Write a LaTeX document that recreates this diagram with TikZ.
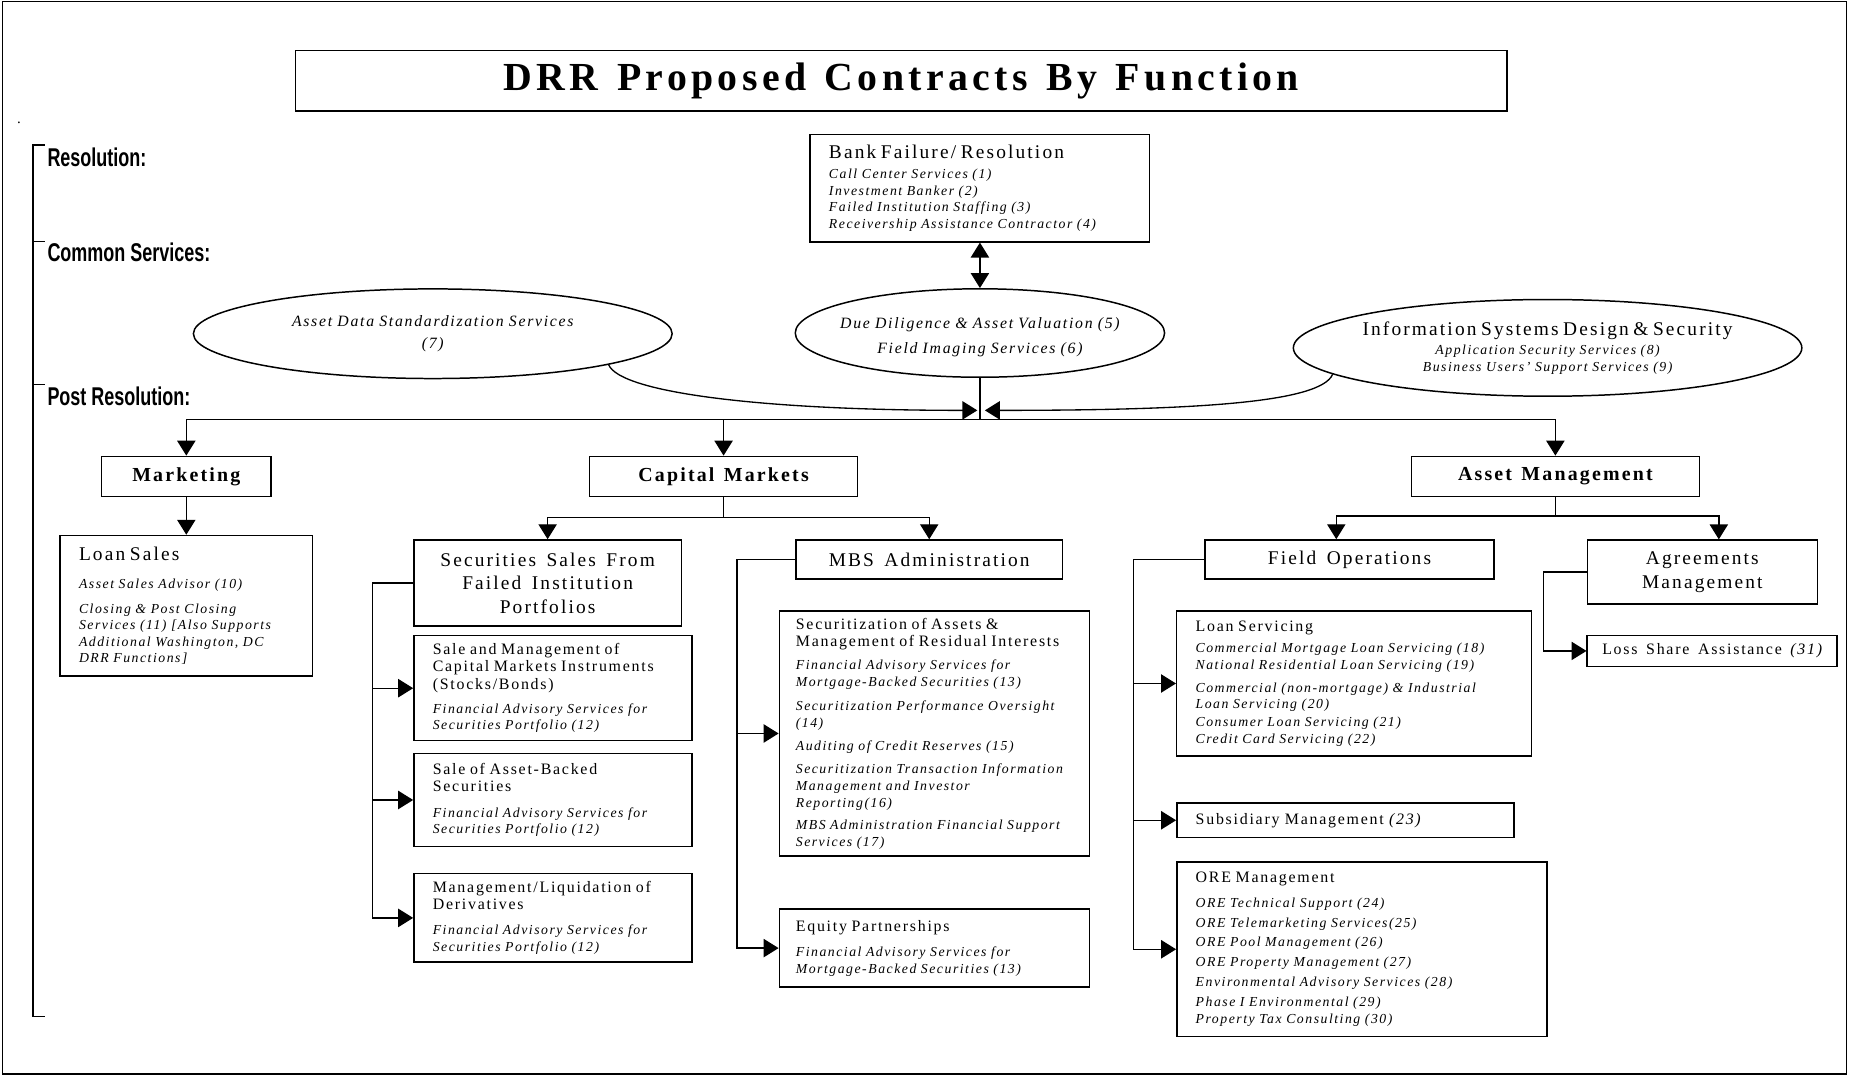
\documentclass[tikz,border=0pt]{standalone}
\usepackage{fontspec}
\setmainfont{Liberation Serif}[LetterSpace=11,WordSpace=1.5,ItalicFeatures={WordSpace=1.6},BoldFeatures={WordSpace=1.3}]
\newfontfamily\fuenterotulo{Liberation Sans}[FakeStretch=0.7]
\usepackage{xcolor}
\usepackage{tikz}
\usetikzlibrary{shapes.geometric,arrows.meta,positioning}
\newcommand{\fttitulo}{\fontsize{24}{28}\selectfont\bfseries}
\newcommand{\ftseccion}{\fontsize{12}{14}\selectfont\bfseries}
\newcommand{\ftenc}{\fontsize{11.7}{14.2}\selectfont\upshape}
\newcommand{\ftsub}{\fontsize{9.6}{10.3}\selectfont\upshape}
\newcommand{\ftserv}{\fontsize{8.3}{10}\selectfont\itshape}
\tikzset{
  caja/.style={draw,line width=0.9pt,inner sep=0pt,fill=white},
  cajalista/.style={caja,align=left,inner xsep=0.4cm,font=\ftserv},
  cajacentro/.style={caja,align=center,font=\ftenc},
  seccion/.style={caja,align=center,font=\ftseccion,minimum height=0.85cm},
  elipse/.style={ellipse,draw,line width=0.9pt,inner sep=0pt},
  textoelipse/.style={align=center,text width=11cm,inner sep=0pt},
  rotulo/.style={font=\fuenterotulo\fontsize{15.5}{17}\selectfont\bfseries,inner sep=0pt,anchor=west},
  linea/.style={line width=0.8pt},
  flecha/.style={-{Triangle[length=9pt,width=11pt]},line width=0.8pt},
  flechadoble/.style={{Triangle[length=9pt,width=11pt]}-{Triangle[length=9pt,width=11pt]},line width=0.8pt},
}

\begin{document}
\begin{tikzpicture}
  \useasboundingbox (0,0) rectangle (39.2,-22.8);
  \draw[line width=1pt] (0.05,-0.03) rectangle (39.15,-22.77);

  % titulo y rotulos de la izquierda
  \node[caja,minimum width=25.68cm,minimum height=1.28cm,font=\fttitulo] (titulo) at (19.11,-1.71) {DRR Proposed Contracts By Function};
  \node[inner sep=0pt,font=\small] (punto) at (0.4,-2.6) {.};
  \draw[linea] (0.95,-3.075) -- (0.7,-3.075) -- (0.7,-21.55) -- (0.95,-21.55);
  \draw[linea] (0.7,-5.125) -- (0.95,-5.125);
  \draw[linea] (0.7,-8.15) -- (0.95,-8.15);
  \node[rotulo] (lres) at (1.0,-3.325) {Resolution:};
  \node[rotulo] (lcom) at (1.0,-5.35) {Common Services:};
  \node[rotulo] (lpost) at (1.0,-8.4) {Post Resolution:};

  % resolucion y servicios comunes
  \node[cajalista,text width=6.4cm,minimum height=2.275cm] (bf) at (20.775,-3.99) {\ftenc Bank Failure/ Resolution\\[2pt]
    \ftserv Call Center Services (1)\\ Investment Banker (2)\\ Failed Institution Staffing (3)\\ Receivership Assistance Contractor (4)};
  \node[elipse,minimum width=10.15cm,minimum height=1.9cm] (ads) at (9.175,-7.075) {};
  \node[textoelipse,font=\fontsize{9.5}{13.5}\selectfont\itshape] (adst) at (ads) {Asset Data Standardization Services\\ (7)};
  \node[elipse,minimum width=7.83cm,minimum height=1.875cm] (dd) at (20.775,-7.06) {};
  \node[textoelipse,font=\fontsize{9.5}{15}\selectfont\itshape] (ddt) at (20.775,-7.15) {Due Diligence \& Asset Valuation (5)\\ Field Imaging Services (6)};
  \node[elipse,minimum width=10.78cm,minimum height=2.05cm] (isd) at (32.81,-7.375) {};
  \node[textoelipse,font=\ftserv] (isdt) at (isd) {\ftenc Information Systems Design \& Security\\[2pt]
    \ftserv Application Security Services (8)\\ Business Users' Support Services (9)};
  \draw[flechadoble] (bf.south) -- (dd.north);

  % funciones
  \node[seccion,minimum width=3.6cm] (mkt) at (3.95,-10.1) {Marketing};
  \node[seccion,minimum width=5.675cm] (cmk) at (15.34,-10.1) {Capital Markets};
  \node[seccion,minimum width=6.1cm] (amg) at (32.975,-10.1) {Asset Management};
  \coordinate (bus) at (20.775,-8.9);
  \coordinate (jl) at (20.72,-8.7);
  \coordinate (jr) at (20.88,-8.7);
  \draw[linea] (dd.south) -- (bus);
  \draw[flecha] (bus) -| (mkt.north);
  \draw[flecha] (bus) -| (cmk.north);
  \draw[flecha] (bus) -| (amg.north);
  \draw[flecha] (ads.-10.5) .. controls +(0.25,-0.6) and +(-4.5,0) .. (jl);
  \draw[flecha] (isd.187) .. controls +(-0.25,-0.6) and +(4.5,0) .. (jr);

  % marketing
  \node[cajalista,text width=4.55cm,minimum height=2.975cm] (ls) at (3.95,-12.84) {\ftenc Loan Sales\\[7pt]
    \ftserv Asset Sales Advisor (10)\\[5pt]
    Closing \& Post Closing\\ Services (11) [Also Supports\\ Additional Washington, DC\\ DRR Functions]};
  \draw[flecha] (mkt.south) -- (ls.north);

  % capital markets
  \node[cajacentro,minimum width=5.675cm,minimum height=1.825cm] (ssf) at (11.61,-12.36) {Securities Sales From\\ Failed Institution\\ Portfolios};
  \node[cajacentro,minimum width=5.65cm,minimum height=0.825cm] (mbs) at (19.7,-11.86) {MBS Administration};
  \draw[flecha] (cmk.south) -- ++(0,-0.425) -| (ssf.north);
  \draw[flecha] (cmk.south) -- ++(0,-0.425) -| (mbs.north);

  \node[cajalista,text width=5.1cm,minimum height=2.225cm] (smc) at (11.725,-14.59) {\ftsub Sale and Management of\\ Capital Markets Instruments\\ (Stocks/Bonds)\\[4.6pt]
    \ftserv Financial Advisory Services for\\ Securities Portfolio (12)};
  \node[cajalista,text width=5.1cm,minimum height=1.975cm] (sab) at (11.725,-16.96) {\ftsub Sale of Asset-Backed\\ Securities\\[5.4pt]
    \ftserv Financial Advisory Services for\\ Securities Portfolio (12)};
  \node[cajalista,text width=5.1cm,minimum height=1.875cm] (der) at (11.725,-19.46) {\ftsub Management/Liquidation of\\ Derivatives\\[5pt]
    \ftserv Financial Advisory Services for\\ Securities Portfolio (12)};
  \coordinate (vcm) at (7.9,-12.36);
  \draw[flecha] (ssf.west) -- (vcm) |- (der.west);
  \draw[flecha] (vcm |- smc.west) -- (smc.west);
  \draw[flecha] (vcm |- sab.west) -- (sab.west);

  \node[cajalista,inner xsep=0.35cm,text width=5.875cm,minimum height=5.2cm] (sec) at (19.81,-15.55) {\ftsub Securitization of Assets \&\\ Management of Residual Interests\\[4pt]
    \ftserv Financial Advisory Services for\\ Mortgage-Backed Securities (13)\\[5pt]
    Securitization Performance Oversight\\ (14)\\[4pt]
    Auditing of Credit Reserves (15)\\[4pt]
    Securitization Transaction Information\\ Management and Investor\\ Reporting(16)\\[3.5pt]
    MBS Administration Financial Support\\ Services (17)};
  \node[cajalista,inner xsep=0.35cm,text width=5.875cm,minimum height=1.65cm] (eqp) at (19.81,-20.1) {\ftsub Equity Partnerships\\[5.4pt]
    \ftserv Financial Advisory Services for\\ Mortgage-Backed Securities (13)};
  \coordinate (vmbs) at (15.625,-11.86);
  \draw[flecha] (mbs.west) -- (vmbs) |- (eqp.west);
  \draw[flecha] (vmbs |- sec.west) -- (sec.west);

  % asset management
  \node[cajacentro,minimum width=6.125cm,minimum height=0.825cm] (fo) at (28.61,-11.86) {Field Operations};
  \node[cajacentro,minimum width=4.875cm,minimum height=1.35cm] (agr) at (36.09,-12.125) {Agreements\\ Management};
  \draw[flecha] (amg.south) -- ++(0,-0.4) -| ([xshift=-0.28cm]fo.north);
  \draw[flecha] (amg.south) -- ++(0,-0.4) -| ([xshift=0.35cm]agr.north);

  \node[cajalista,text width=6.725cm,minimum height=3.075cm] (lsv) at (28.71,-14.49) {\ftsub Loan Servicing\\[2.5pt]
    \ftserv Commercial Mortgage Loan Servicing (18)\\[0.7pt]
    National Residential Loan Servicing (19)\\[3.5pt]
    Commercial (non-mortgage) \& Industrial\\ Loan Servicing (20)\\[0.7pt]
    Consumer Loan Servicing (21)\\ Credit Card Servicing (22)};
  \node[cajalista,font=\ftsub,text width=6.35cm,minimum height=0.725cm] (sub) at (28.525,-17.39) {Subsidiary Management {\itshape (23)}};
  \node[cajalista,text width=7.05cm,minimum height=3.7cm] (ore) at (28.875,-20.125) {\ftsub ORE Management\\[4.6pt]
    \ftserv ORE Technical Support (24)\\[2pt]
    ORE Telemarketing Services(25)\\[2pt]
    ORE Pool Management (26)\\[2pt]
    ORE Property Management (27)\\[2pt]
    Environmental Advisory Services (28)\\[2pt]
    Phase I Environmental (29)\\
    Property Tax Consulting (30)};
  \coordinate (vfo) at (24.025,-11.86);
  \draw[flecha] (fo.west) -- (vfo) |- (ore.west);
  \draw[flecha] (vfo |- lsv.west) -- (lsv.west);
  \draw[flecha] (vfo |- sub.west) -- (sub.west);

  \node[cajacentro,font=\ftsub,minimum width=5.3cm,minimum height=0.65cm] (lsa) at (36.3,-13.8) {Loss Share Assistance {\itshape (31)}};
  \coordinate (vagr) at (32.725,-12.125);
  \draw[flecha] (agr.west) -- (vagr) |- (lsa.west);
\end{tikzpicture}
\end{document}
